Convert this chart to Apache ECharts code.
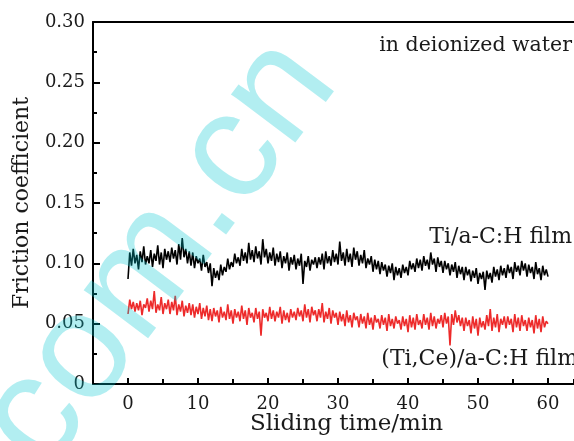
<!DOCTYPE html>
<html>
<head>
<meta charset="utf-8">
<script src="https://cdn.jsdelivr.net/npm/echarts@6/dist/echarts.min.js"></script>
<style>
html,body{margin:0;padding:0;background:#fff;}
#chart{width:574px;height:441px;}
</style>
</head>
<body>
<div id="chart"></div>
<script>
// Sampling: one value every 0.25 min from 0 to 60 min
var timeStart = 0;
var timeStep = 0.25;

// Ti/a-C:H film friction coefficient
var tiACH = [
0.087,0.109,0.098,0.112,0.100,0.107,0.095,0.110,0.101,0.114,0.099,0.106,
0.100,0.111,0.097,0.108,0.102,0.115,0.099,0.109,0.096,0.112,0.103,0.110,
0.101,0.113,0.104,0.111,0.099,0.116,0.103,0.121,0.105,0.112,0.100,0.110,
0.098,0.109,0.096,0.106,0.100,0.104,0.094,0.107,0.097,0.101,0.092,0.100,
0.081,0.096,0.088,0.094,0.086,0.099,0.090,0.097,0.093,0.104,0.095,0.101,
0.097,0.108,0.100,0.105,0.098,0.112,0.102,0.109,0.100,0.117,0.103,0.111,
0.101,0.114,0.104,0.110,0.099,0.120,0.105,0.112,0.100,0.109,0.102,0.113,
0.098,0.108,0.101,0.110,0.096,0.106,0.100,0.109,0.094,0.105,0.099,0.107,
0.095,0.104,0.098,0.108,0.083,0.102,0.097,0.106,0.094,0.103,0.099,0.105,
0.096,0.105,0.099,0.108,0.095,0.110,0.100,0.106,0.098,0.111,0.101,0.108,
0.099,0.118,0.102,0.109,0.098,0.112,0.101,0.108,0.097,0.113,0.103,0.110,
0.098,0.107,0.100,0.111,0.096,0.104,0.099,0.106,0.093,0.103,0.095,0.102,
0.091,0.101,0.094,0.099,0.089,0.098,0.092,0.100,0.086,0.097,0.090,0.096,
0.088,0.099,0.092,0.097,0.090,0.102,0.095,0.100,0.093,0.104,0.096,0.103,
0.094,0.106,0.098,0.103,0.095,0.109,0.099,0.104,0.093,0.105,0.097,0.102,
0.092,0.102,0.095,0.100,0.090,0.099,0.093,0.101,0.088,0.098,0.091,0.097,
0.086,0.097,0.090,0.095,0.085,0.094,0.088,0.096,0.083,0.092,0.087,0.093,
0.078,0.094,0.087,0.092,0.084,0.097,0.089,0.095,0.086,0.098,0.090,0.096,
0.088,0.099,0.092,0.097,0.087,0.101,0.093,0.098,0.090,0.102,0.094,0.100,
0.089,0.099,0.092,0.097,0.087,0.101,0.091,0.096,0.086,0.098,0.090,0.095,
0.089
];

// (Ti,Ce)/a-C:H film friction coefficient
var tiCeACH = [
0.058,0.070,0.062,0.068,0.060,0.067,0.061,0.069,0.057,0.066,0.063,0.071,
0.060,0.069,0.062,0.077,0.059,0.066,0.061,0.072,0.058,0.067,0.062,0.070,
0.058,0.068,0.061,0.073,0.057,0.066,0.060,0.069,0.056,0.065,0.059,0.067,
0.057,0.066,0.055,0.064,0.058,0.067,0.054,0.063,0.056,0.065,0.053,0.062,
0.052,0.063,0.056,0.061,0.051,0.064,0.055,0.060,0.053,0.066,0.054,0.061,
0.050,0.062,0.055,0.060,0.052,0.065,0.054,0.061,0.049,0.063,0.055,0.059,
0.051,0.063,0.054,0.060,0.040,0.062,0.055,0.059,0.052,0.064,0.054,0.061,
0.052,0.060,0.055,0.064,0.050,0.061,0.053,0.059,0.051,0.062,0.055,0.060,
0.053,0.063,0.056,0.061,0.052,0.066,0.055,0.062,0.051,0.064,0.057,0.061,
0.052,0.062,0.055,0.067,0.051,0.060,0.054,0.063,0.050,0.061,0.055,0.059,
0.049,0.060,0.052,0.058,0.048,0.061,0.051,0.057,0.047,0.059,0.053,0.056,
0.047,0.058,0.050,0.056,0.046,0.059,0.049,0.055,0.045,0.057,0.051,0.054,
0.046,0.057,0.049,0.055,0.044,0.058,0.048,0.054,0.046,0.056,0.050,0.053,
0.045,0.056,0.048,0.054,0.043,0.057,0.047,0.055,0.045,0.058,0.049,0.053,
0.046,0.058,0.049,0.055,0.045,0.059,0.048,0.056,0.046,0.054,0.050,0.057,
0.047,0.059,0.050,0.056,0.032,0.058,0.049,0.061,0.051,0.057,0.048,0.055,
0.044,0.055,0.048,0.053,0.042,0.056,0.046,0.054,0.040,0.055,0.047,0.052,
0.045,0.057,0.048,0.062,0.044,0.055,0.047,0.058,0.043,0.054,0.049,0.056,
0.046,0.056,0.049,0.054,0.043,0.058,0.047,0.055,0.044,0.057,0.048,0.053,
0.044,0.055,0.047,0.053,0.042,0.057,0.046,0.054,0.043,0.056,0.047,0.052,
0.050
];

var xTickLabels = ['0', '10', '20', '30', '40', '50', '60'];
var yTickLabels = ['0', '0.05', '0.10', '0.15', '0.20', '0.25', '0.30'];

var labelTi = 'Ti/a-C:H film';
var labelTiCe = '(Ti,Ce)/a-C:H film';
var labelEnv = 'in deionized water';
var xName = 'Sliding time/min';
var yName = 'Friction coefficient';
var watermark = 'com.cn';

function pairs(arr) {
  return arr.map(function (v, i) { return [+(timeStart + i * timeStep).toFixed(2), v]; });
}

var FONT = 'DejaVu Serif';
var TXT = '#1a1a1a';
var chart = echarts.init(document.getElementById('chart'), null, {renderer: 'canvas'});

// plot: 7 px per minute, x = -5 at px 93, plot area runs to the right edge (574)
var PX = 7;
var gridLeft = 93, gridWidth = 481, gridTop = 22, gridBottom = 56;
var xMin = -5, xMax = xMin + gridWidth / PX;

var AXLINE = {color: '#000', width: 2};

chart.setOption({
  animation: false,
  backgroundColor: '#fff',
  grid: [
    {left: gridLeft, top: gridTop, width: gridWidth, bottom: gridBottom, show: false, containLabel: false},
    // helper grid covering 0..60 min, so major ticks start from 0
    {left: gridLeft + 5 * PX, top: gridTop, width: 60 * PX, bottom: gridBottom, show: false, containLabel: false}
  ],
  xAxis: [
    {
      type: 'value', gridIndex: 0, min: xMin, max: xMax, interval: 5,
      position: 'bottom',
      name: xName,
      nameLocation: 'middle',
      nameGap: 29,
      nameTextStyle: {fontFamily: FONT, fontSize: 23, color: TXT, padding: [0, 0, 0, 26]},
      axisLine: {show: true, onZero: false, lineStyle: AXLINE},
      axisTick: {show: true, inside: true, length: 5, lineStyle: AXLINE},
      axisLabel: {show: false},
      splitLine: {show: false}
    },
    {
      type: 'value', gridIndex: 1, min: 0, max: 60, interval: 10,
      position: 'bottom',
      axisLine: {show: false, onZero: false},
      axisTick: {show: true, inside: true, length: 7, lineStyle: AXLINE},
      axisLabel: {show: true, fontFamily: FONT, fontSize: 18, color: TXT, margin: 10,
                  formatter: function (v) {
                    var idx = Math.round(v / 10);
                    return xTickLabels[idx] !== undefined ? xTickLabels[idx] : '';
                  }},
      splitLine: {show: false}
    },
    {
      type: 'value', gridIndex: 0, min: xMin, max: xMax, position: 'top',
      axisLine: {show: true, onZero: false, lineStyle: AXLINE},
      axisTick: {show: false}, axisLabel: {show: false}, splitLine: {show: false}
    }
  ],
  yAxis: [
    {
      type: 'value', gridIndex: 0,
      min: 0, max: 0.30, interval: 0.05,
      name: yName,
      nameLocation: 'middle',
      nameGap: 60,
      nameTextStyle: {fontFamily: FONT, fontSize: 22, color: TXT},
      axisLine: {show: true, onZero: false, lineStyle: AXLINE},
      axisTick: {show: true, inside: true, length: 7, lineStyle: AXLINE},
      minorTick: {show: true, splitNumber: 2, length: 4, lineStyle: AXLINE},
      splitLine: {show: false},
      axisLabel: {
        fontFamily: FONT, fontSize: 18, color: TXT, margin: 8,
        formatter: function (v) {
          var idx = Math.round(v / 0.05);
          return yTickLabels[idx] !== undefined ? yTickLabels[idx] : '';
        }
      }
    },
    {
      type: 'value', gridIndex: 1, min: 0, max: 0.30, show: false
    }
  ],
  series: [
    {type: 'line', name: labelTi, xAxisIndex: 0, yAxisIndex: 0, data: pairs(tiACH), showSymbol: false, symbol: 'none',
     lineStyle: {color: '#000', width: 1.6}, itemStyle: {color: '#000'}, z: 3},
    {type: 'line', name: labelTiCe, xAxisIndex: 0, yAxisIndex: 0, data: pairs(tiCeACH), showSymbol: false, symbol: 'none',
     lineStyle: {color: '#ed2a2a', width: 1.6}, itemStyle: {color: '#ed2a2a'}, z: 3}
  ],
  graphic: [
    {type: 'text', x: 572, y: 46, style: {text: labelEnv, align: 'right', verticalAlign: 'middle', font: '20.5px "DejaVu Serif"', fill: TXT}},
    {type: 'text', x: 572, y: 237, style: {text: labelTi, align: 'right', verticalAlign: 'middle', font: '22px "DejaVu Serif"', fill: TXT}},
    {type: 'text', x: 578, y: 359, style: {text: labelTiCe, align: 'right', verticalAlign: 'middle', font: '22px "DejaVu Serif"', fill: TXT}},
    {type: 'text', x: 159, y: 254, rotation: 53 * Math.PI / 180, z: 100, silent: true,
     style: {text: watermark, x: 0, y: 0, align: 'center', verticalAlign: 'middle',
             font: '152px "Liberation Sans"', fill: 'rgba(0,200,210,0.3)'}}
  ]
});
</script>
</body>
</html>
